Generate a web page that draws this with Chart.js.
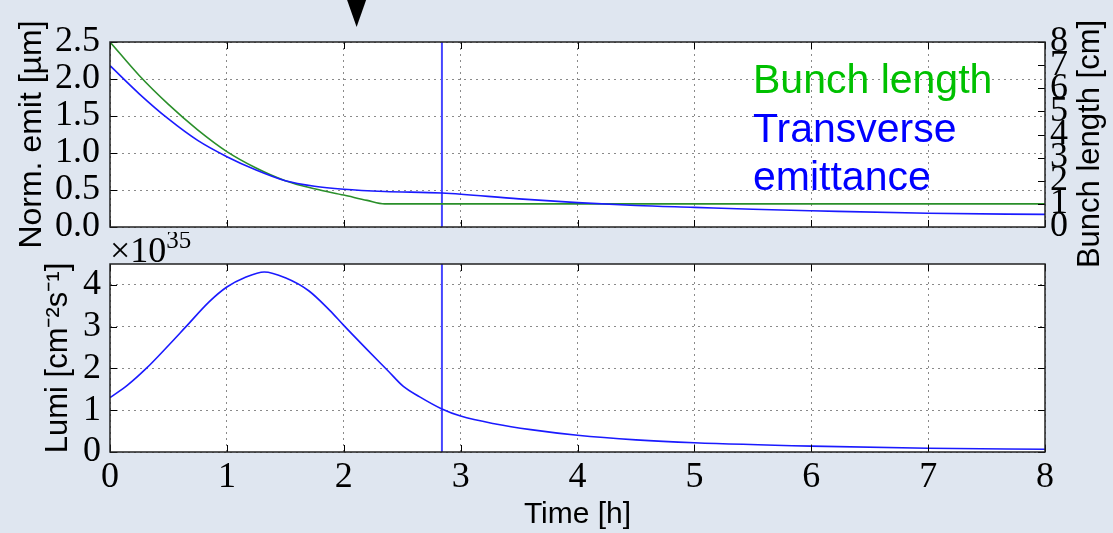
<!DOCTYPE html>
<html>
<head>
<meta charset="utf-8">
<script src="https://cdn.jsdelivr.net/npm/chart.js@4.4.1/dist/chart.umd.min.js"></script>
<style>
  body { margin: 0; background: #dfe6f0; }
  #wrap { position: relative; width: 1113px; height: 533px; }
  canvas { position: absolute; left: 0; }
  #top { top: 0; }
  #bottom { top: 232px; }
</style>
</head>
<body>
<div id="wrap">
  <canvas id="top" width="1113" height="280"></canvas>
  <canvas id="bottom" width="1113" height="301"></canvas>
</div>
<script>
// time axis [h]
const timeTicks = [0, 1, 2, 3, 4, 5, 6, 7, 8];

// transverse emittance [um]
const emitTime = [0, 0.25, 0.5, 0.75, 1.0, 1.25, 1.5, 1.75, 2.0, 2.35, 2.84, 3.5, 4.0, 4.5, 5.0, 5.5, 6.0, 7.0, 8.0];
const emitValues = [2.18, 1.80, 1.46, 1.17, 0.95, 0.77, 0.625, 0.55, 0.51, 0.48, 0.46, 0.38, 0.33, 0.29, 0.265, 0.24, 0.22, 0.185, 0.17];

// bunch length [cm]
const bunchTime = [0, 0.25, 0.5, 0.75, 1.0, 1.25, 1.5, 1.75, 2.0, 2.2, 2.35, 8.0];
const bunchValues = [8.0, 6.55, 5.3, 4.2, 3.26, 2.55, 2.0, 1.65, 1.38, 1.15, 1.0, 1.0];

// luminosity [1e35 cm^-2 s^-1]
const lumiTime = [0, 0.15, 0.31, 0.5, 0.65, 0.85, 1.0, 1.15, 1.32, 1.5, 1.7, 1.88, 2.0, 2.2, 2.38, 2.51, 2.65, 2.84, 3.0, 3.3, 3.6, 4.0, 4.5, 5.0, 6.0, 7.0, 8.0];
const lumiValues = [1.30, 1.6, 2.0, 2.55, 3.0, 3.6, 3.95, 4.17, 4.31, 4.17, 3.86, 3.39, 3.03, 2.45, 1.94, 1.57, 1.32, 1.03, 0.86, 0.67, 0.535, 0.40, 0.29, 0.22, 0.14, 0.09, 0.065];

// marker time (vertical line) and slider position
const markerTime = 2.84;
const sliderTime = 2.11;

const pts = (xs, ys) => xs.map((x, i) => ({x: x, y: ys[i]}));

const serif = '"Liberation Serif", serif';
const sans = '"Liberation Sans", Arial, sans-serif';
const gridColor = '#8a8a8a';

function line(ctx, x1, y1, x2, y2) {
    ctx.beginPath(); ctx.moveTo(x1, y1); ctx.lineTo(x2, y2); ctx.stroke();
}

const frame = {
    id: 'frame',
    beforeDraw(chart) {
        const a = chart.chartArea;
        chart.ctx.save();
        chart.ctx.fillStyle = '#fff';
        chart.ctx.fillRect(a.left, a.top, a.right - a.left, a.bottom - a.top);
        chart.ctx.restore();
    },
    afterDraw(chart) {
        const ctx = chart.ctx, a = chart.chartArea;
        ctx.save();
        ctx.strokeStyle = '#000';
        ctx.lineWidth = 1;
        const x = chart.scales.x;
        x.ticks.forEach(t => {
            const px = Math.round(x.getPixelForValue(t.value)) + 0.5;
            line(ctx, px, a.bottom, px, a.bottom - 7);
            line(ctx, px, a.top, px, a.top + 7);
        });
        const y = chart.scales.y;
        const rightScale = chart.scales.y2 || y;
        y.ticks.forEach(t => {
            const py = Math.round(y.getPixelForValue(t.value)) + 0.5;
            line(ctx, a.left, py, a.left + 7, py);
        });
        rightScale.ticks.forEach(t => {
            const py = Math.round(rightScale.getPixelForValue(t.value)) + 0.5;
            line(ctx, a.right, py, a.right - 7, py);
        });
        ctx.strokeStyle = '#222';
        ctx.lineWidth = 1.5;
        ctx.strokeRect(a.left, a.top, a.right - a.left, a.bottom - a.top);
        ctx.restore();
    }
};

const topExtras = {
    id: 'topExtras',
    afterDraw(chart) {
        const ctx = chart.ctx, a = chart.chartArea;
        ctx.save();
        ctx.font = '41px ' + sans;
        ctx.textBaseline = 'alphabetic';
        ctx.fillStyle = '#00c000';
        ctx.fillText('Bunch length', a.left + 643, 93);
        ctx.fillStyle = '#0000ff';
        ctx.fillText('Transverse', a.left + 643, 142);
        ctx.fillText('emittance', a.left + 643, 190);
        // right axis title, reading bottom to top
        ctx.save();
        ctx.translate(1090, 144);
        ctx.rotate(-Math.PI / 2);
        ctx.font = '31px ' + sans;
        ctx.fillStyle = '#000';
        ctx.textAlign = 'center';
        ctx.textBaseline = 'middle';
        ctx.fillText('Bunch length [cm]', 0, 0);
        ctx.restore();
        // slider marker
        const sx = chart.scales.x.getPixelForValue(sliderTime);
        ctx.fillStyle = '#000';
        ctx.beginPath();
        ctx.moveTo(sx - 9.5, 0);
        ctx.lineTo(sx + 9.5, 0);
        ctx.lineTo(sx, 27);
        ctx.closePath();
        ctx.fill();
        ctx.restore();
    }
};

const bottomExtras = {
    id: 'bottomExtras',
    afterDraw(chart) {
        const ctx = chart.ctx, a = chart.chartArea;
        ctx.save();
        ctx.fillStyle = '#000';
        ctx.font = '36px ' + serif;
        ctx.fillText('\u00d710', a.left, a.top - 2);
        const w = ctx.measureText('\u00d710').width;
        ctx.font = '25px ' + serif;
        ctx.fillText('35', a.left + w, a.top - 16);
        ctx.restore();
    }
};

const xAxis = (showLabels, height) => ({
    type: 'linear',
    min: 0,
    max: 8,
    afterBuildTicks: s => { s.ticks = timeTicks.map(v => ({value: v})); },
    afterFit: s => { s.height = height; },
    grid: {color: gridColor, lineWidth: 1, drawTicks: false},
    border: {display: false, dash: [2, 4]},
    ticks: {display: showLabels, autoSkip: false, maxRotation: 0, padding: 4,
            color: '#000', font: {family: serif, size: 36}},
    title: {display: showLabels, text: 'Time [h]', color: '#000',
            font: {family: sans, size: 30}, padding: {top: 0, bottom: 0}}
});

new Chart(document.getElementById('top'), {
    type: 'line',
    data: {
        datasets: [
            {label: 'Transverse emittance', data: pts(emitTime, emitValues), yAxisID: 'y',
             borderColor: '#1a1aff', borderWidth: 1.6, pointRadius: 0, cubicInterpolationMode: 'monotone'},
            {label: 'Bunch length', data: pts(bunchTime, bunchValues), yAxisID: 'y2',
             borderColor: '#2a8f2a', borderWidth: 1.6, pointRadius: 0, cubicInterpolationMode: 'monotone'},
            {label: 'marker', data: [{x: markerTime, y: 0}, {x: markerTime, y: 2.5}], yAxisID: 'y',
             borderColor: '#4646ff', borderWidth: 2, pointRadius: 0}
        ]
    },
    options: {
        responsive: false,
        animation: false,
        layout: {padding: {top: 42, left: 0, right: 0, bottom: 0}},
        plugins: {legend: {display: false}, tooltip: {enabled: false}},
        scales: {
            x: xAxis(false, 53),
            y: {
                position: 'left', min: 0, max: 2.5,
                afterBuildTicks: s => { s.ticks = [0, 0.5, 1, 1.5, 2, 2.5].map(v => ({value: v})); },
                afterFit: s => { s.width = 110; },
                grid: {color: gridColor, lineWidth: 1, drawTicks: false},
                border: {display: false, dash: [2, 4]},
                ticks: {padding: 10, autoSkip: false, color: '#000', font: {family: serif, size: 36},
                        callback: v => v.toFixed(1)},
                title: {display: true, text: 'Norm. emit [\u00b5m]', color: '#000',
                        font: {family: sans, size: 32}, padding: {top: 13, bottom: 0}}
            },
            y2: {
                position: 'right', min: 0, max: 8,
                afterBuildTicks: s => { s.ticks = [0, 1, 2, 3, 4, 5, 6, 7, 8].map(v => ({value: v})); },
                afterFit: s => { s.width = 68; },
                grid: {drawOnChartArea: false, drawTicks: false},
                border: {display: false},
                ticks: {padding: 5, autoSkip: false, color: '#000', font: {family: serif, size: 36}},
                title: {display: false}
            }
        }
    },
    plugins: [frame, topExtras]
});

new Chart(document.getElementById('bottom'), {
    type: 'line',
    data: {
        datasets: [
            {label: 'Lumi', data: pts(lumiTime, lumiValues),
             borderColor: '#1a1aff', borderWidth: 1.6, pointRadius: 0, cubicInterpolationMode: 'monotone'},
            {label: 'marker', data: [{x: markerTime, y: 0}, {x: markerTime, y: 4.5}],
             borderColor: '#4646ff', borderWidth: 2, pointRadius: 0}
        ]
    },
    options: {
        responsive: false,
        animation: false,
        layout: {padding: {top: 32, left: 0, right: 68, bottom: 0}},
        plugins: {legend: {display: false}, tooltip: {enabled: false}},
        scales: {
            x: xAxis(true, 81),
            y: {
                position: 'left', min: 0, max: 4.5,
                afterBuildTicks: s => { s.ticks = [0, 1, 2, 3, 4].map(v => ({value: v})); },
                afterFit: s => { s.width = 110; },
                grid: {color: gridColor, lineWidth: 1, drawTicks: false},
                border: {display: false, dash: [2, 4]},
                ticks: {padding: 9, autoSkip: false, color: '#000', font: {family: serif, size: 36}},
                title: {display: true, text: 'Lumi [cm\u207b\u00b2s\u207b\u00b9]', color: '#000',
                        font: {family: sans, size: 31}, padding: {top: 40, bottom: 0}}
            }
        }
    },
    plugins: [frame, bottomExtras]
});
</script>
</body>
</html>
